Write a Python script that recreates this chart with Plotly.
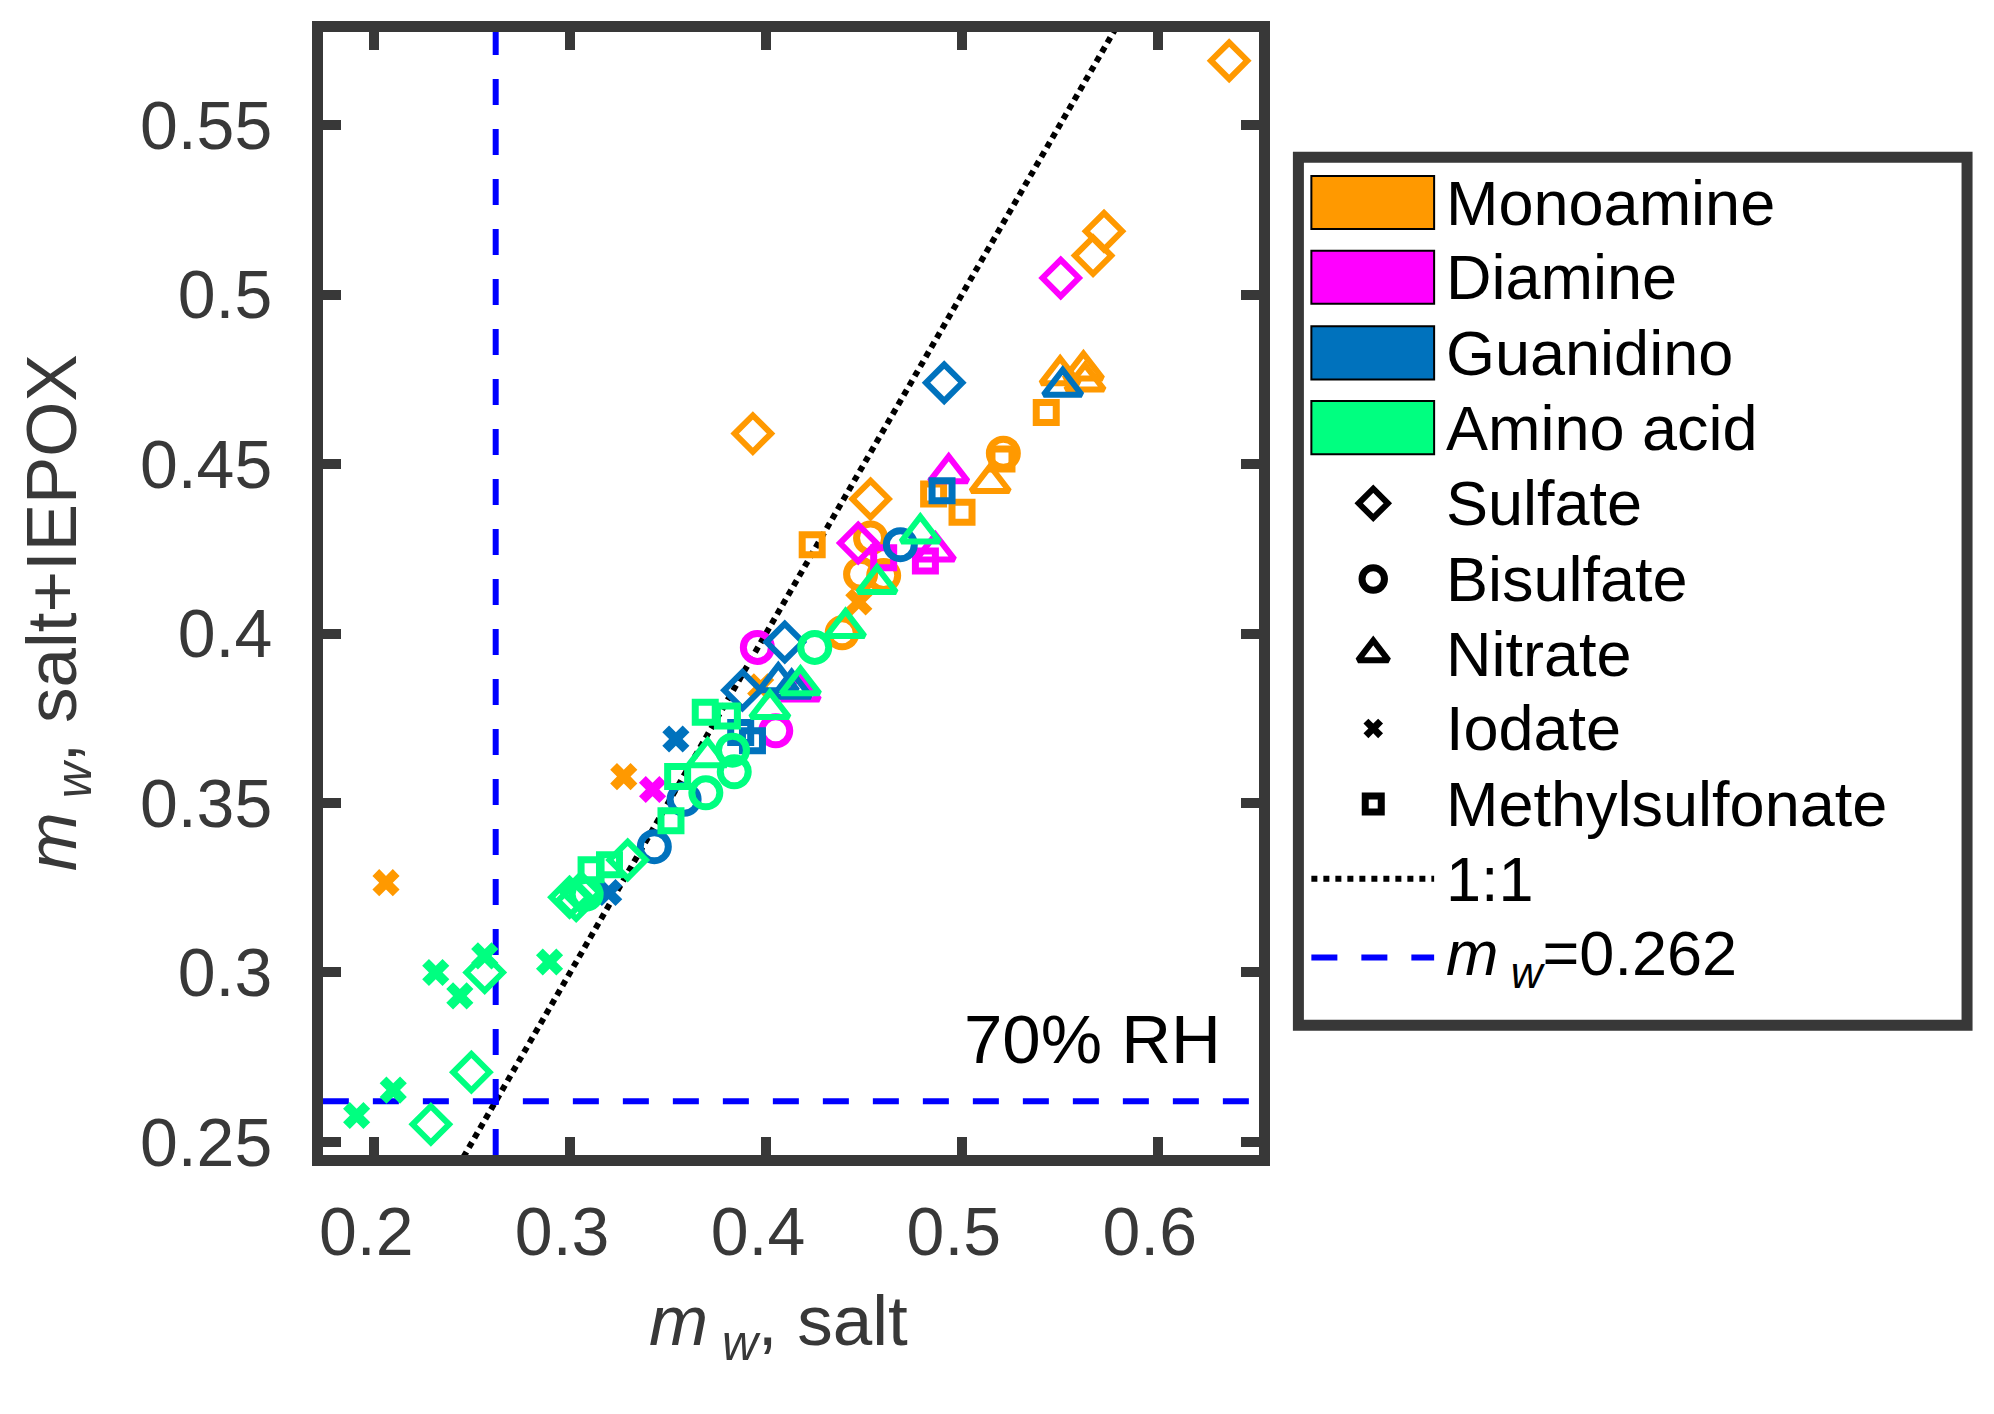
import plotly.graph_objects as go

W, H = 1994, 1414
FONT = "Liberation Sans, Arial, sans-serif"
AX = "#383838"

groups = ["Monoamine", "Diamine", "Guanidino", "Amino acid"]
group_colors = ["#FF9900", "#FF00FF", "#0072BD", "#00FF80"]
anions = ["Sulfate", "Bisulfate", "Nitrate", "Iodate", "Methylsulfonate"]

# ---- data (m_w salt, m_w salt+IEPOX, anion) ----
monoamine_x = [0.6365, 0.5726, 0.5670, 0.3933, 0.4534,
               0.5212, 0.4534, 0.4483, 0.4601, 0.4389,
               0.5502, 0.5621, 0.5629, 0.5145,
               0.2060, 0.3274, 0.3973, 0.4474,
               0.5431, 0.4856, 0.5001, 0.4236, 0.5205]
monoamine_y = [0.5690, 0.5187, 0.5115, 0.4590, 0.4397,
               0.4532, 0.4282, 0.4175, 0.4171, 0.4002,
               0.4763, 0.4777, 0.4744, 0.4445,
               0.3265, 0.3578, 0.3843, 0.4093,
               0.4652, 0.4412, 0.4358, 0.4262, 0.4515]
monoamine_anion = ["Sulfate"] * 5 + ["Bisulfate"] * 5 + ["Nitrate"] * 4 + ["Iodate"] * 4 + ["Methylsulfonate"] * 5

diamine_x = [0.5505, 0.4471,
             0.3956, 0.4050,
             0.4933, 0.4865, 0.4175,
             0.3421,
             0.4601, 0.4814]
diamine_y = [0.5049, 0.4267,
             0.3959, 0.3713,
             0.4474, 0.4243, 0.3830,
             0.3540,
             0.4224, 0.4214]
diamine_anion = ["Sulfate"] * 2 + ["Bisulfate"] * 2 + ["Nitrate"] * 3 + ["Iodate"] + ["Methylsulfonate"] * 2

guanidino_x = [0.4910, 0.4096, 0.3880,
               0.4686, 0.3582, 0.3430,
               0.5515, 0.4131, 0.4063,
               0.3540, 0.3197,
               0.4899, 0.3871, 0.3931]
guanidino_y = [0.4740, 0.3975, 0.3833,
               0.4262, 0.3511, 0.3371,
               0.4729, 0.3838, 0.3857,
               0.3689, 0.3236,
               0.4421, 0.3708, 0.3684]
guanidino_anion = ["Sulfate"] * 3 + ["Bisulfate"] * 3 + ["Nitrate"] * 3 + ["Iodate"] * 2 + ["Methylsulfonate"] * 3

aminoacid_x = [0.2564, 0.2496, 0.2289, 0.2997, 0.3031, 0.3056, 0.3294,
               0.4249, 0.3829, 0.3838, 0.3693, 0.3082,
               0.4788, 0.4567, 0.4406, 0.4176, 0.4020, 0.3702,
               0.2314, 0.2437, 0.2564, 0.2895, 0.2097, 0.1910,
               0.3690, 0.3803, 0.3549, 0.3515, 0.3201, 0.3107]
aminoacid_y = [0.3000, 0.2706, 0.2552, 0.3222, 0.3212, 0.3236, 0.3332,
               0.3959, 0.3656, 0.3592, 0.3530, 0.3231,
               0.4296, 0.4147, 0.4017, 0.3848, 0.3778, 0.3636,
               0.3000, 0.2931, 0.3049, 0.3031, 0.2653, 0.2578,
               0.3768, 0.3757, 0.3578, 0.3448, 0.3318, 0.3303]
aminoacid_anion = ["Sulfate"] * 7 + ["Bisulfate"] * 5 + ["Nitrate"] * 6 + ["Iodate"] * 6 + ["Methylsulfonate"] * 6

group_data = {
    "Monoamine": (monoamine_x, monoamine_y, monoamine_anion),
    "Diamine": (diamine_x, diamine_y, diamine_anion),
    "Guanidino": (guanidino_x, guanidino_y, guanidino_anion),
    "Amino acid": (aminoacid_x, aminoacid_y, aminoacid_anion),
}

x_range = [0.17376, 0.65187]
y_range = [0.24614, 0.57749]
x_ticks = [0.2, 0.3, 0.4, 0.5, 0.6]
x_ticklabels = ["0.2", "0.3", "0.4", "0.5", "0.6"]
y_ticks = [0.25, 0.3, 0.35, 0.4, 0.45, 0.5, 0.55]
y_ticklabels = ["0.25", "0.3", "0.35", "0.4", "0.45", "0.5", "0.55"]
one_to_one = [0.15, 0.7]
mw_threshold = 0.262

# ---- marker styles ----
sym = {"Sulfate": "diamond-open", "Bisulfate": "circle-open", "Nitrate": "triangle-up-open",
       "Iodate": "x", "Methylsulfonate": "square-open"}
msize = {"Sulfate": 28, "Bisulfate": 28, "Nitrate": 33, "Iodate": 24, "Methylsulfonate": 20}
mlw = {"Sulfate": 6, "Bisulfate": 7, "Nitrate": 6, "Iodate": 0, "Methylsulfonate": 7}

fig = go.Figure()

# reference lines
fig.add_trace(go.Scatter(x=one_to_one, y=one_to_one, mode="lines",
                         line=dict(color="black", width=6, dash="6px,5px"),
                         showlegend=False, hoverinfo="skip"))
fig.add_trace(go.Scatter(x=[mw_threshold, mw_threshold], y=y_range, mode="lines",
                         line=dict(color="#0000FF", width=6, dash="26px,24px"),
                         showlegend=False, hoverinfo="skip"))
fig.add_trace(go.Scatter(x=x_range, y=[mw_threshold, mw_threshold], mode="lines",
                         line=dict(color="#0000FF", width=6, dash="26px,24px"),
                         showlegend=False, hoverinfo="skip"))

for g, col in zip(groups, group_colors):
    xs, ys, an = group_data[g]
    for a in anions:
        px = [x for x, k in zip(xs, an) if k == a]
        py = [y for y, k in zip(ys, an) if k == a]
        if not px:
            continue
        fig.add_trace(go.Scatter(
            x=px, y=py, mode="markers", name=f"{g} {a}", showlegend=False,
            marker=dict(symbol=sym[a], size=msize[a], color=col,
                        line=dict(color=col, width=mlw[a]))))

# ---- legend (drawn in pixel coordinates on a hidden full-figure axis) ----
leg_left, leg_right, leg_top, leg_bottom = 1297, 1967, 160, 1043
row_y = [206, 282, 359, 435, 512, 589, 665, 741, 818, 894, 974]
patch_x0, patch_x1, patch_h = 1310, 1433, 54
text_x = 1443
mark_x = 1372

shapes = [dict(type="rect", xref="x2", yref="y2", x0=leg_left, x1=leg_right,
               y0=leg_top, y1=leg_bottom, line=dict(color=AX, width=11),
               fillcolor="white", layer="below")]
for i, col in enumerate(group_colors):
    shapes.append(dict(type="rect", xref="x2", yref="y2", x0=patch_x0, x1=patch_x1,
                       y0=row_y[i] - patch_h / 2, y1=row_y[i] + patch_h / 2,
                       line=dict(color="black", width=2), fillcolor=col, layer="above"))
shapes.append(dict(type="line", xref="x2", yref="y2", x0=patch_x0, x1=patch_x1,
                   y0=row_y[9], y1=row_y[9], line=dict(color="black", width=6, dash="6px,6px")))
shapes.append(dict(type="line", xref="x2", yref="y2", x0=patch_x0, x1=patch_x1,
                   y0=row_y[10], y1=row_y[10], line=dict(color="#0000FF", width=6, dash="26px,24px")))
fig.update_layout(shapes=shapes)

for j, a in enumerate(anions):
    fig.add_trace(go.Scatter(
        x=[mark_x], y=[row_y[4 + j]], xaxis="x2", yaxis="y2", mode="markers",
        showlegend=False, hoverinfo="skip",
        marker=dict(symbol=sym[a], size=msize[a] * (0.8 if a != "Iodate" else 0.72),
                    color="black", line=dict(color="black", width=mlw[a]))))

legend_labels = groups + anions + ["1:1", "<i>m</i><sub><i> w</i></sub>=0.262"]
annotations = []
for lab, yy in zip(legend_labels, row_y):
    annotations.append(dict(xref="x2", yref="y2", x=text_x, y=yy, text=lab,
                            showarrow=False, xanchor="left", yanchor="middle",
                            font=dict(family=FONT, size=63, color="black")))

# axis titles and panel label
annotations.append(dict(xref="x2", yref="y2", x=776, y=1349, showarrow=False,
                        text="<i>m</i><sub><i> w</i></sub>, salt",
                        xanchor="center", yanchor="middle",
                        font=dict(family=FONT, size=71, color=AX)))
annotations.append(dict(xref="x2", yref="y2", x=54, y=623, showarrow=False, textangle=-90,
                        text="<i>m</i><sub><i> w</i></sub>, salt+IEPOX",
                        xanchor="center", yanchor="middle",
                        font=dict(family=FONT, size=71, color=AX)))
annotations.append(dict(xref="x", yref="y", x=0.6331, y=0.2801, showarrow=False,
                        text="70% RH", xanchor="right", yanchor="middle",
                        font=dict(family=FONT, size=69, color="black")))
fig.update_layout(annotations=annotations)

axis_common = dict(ticks="inside", ticklen=18, tickwidth=10, tickcolor=AX,
                   showline=True, linewidth=11, linecolor=AX, mirror="ticks",
                   showgrid=False, zeroline=False,
                   tickfont=dict(family=FONT, size=68, color=AX))

fig.update_layout(
    width=W, height=H,
    margin=dict(l=0, r=0, t=0, b=0),
    paper_bgcolor="white", plot_bgcolor="rgba(0,0,0,0)",
    xaxis=dict(domain=[319.5 / W, 1257.8 / W], range=x_range, tickvals=x_ticks,
               ticktext=x_ticklabels, anchor="y", ticklabelstandoff=7,
               ticklabelshift=-8, **axis_common),
    yaxis=dict(domain=[1 - 1175 / H, 1 - 32.5 / H], range=y_range, tickvals=y_ticks,
               ticktext=y_ticklabels, anchor="x", ticklabelstandoff=26, **axis_common),
    xaxis2=dict(domain=[0, 1], range=[0, W], visible=False, anchor="y2", fixedrange=True),
    yaxis2=dict(domain=[0, 1], range=[H, 0], visible=False, anchor="x2", fixedrange=True),
    showlegend=False,
)

fig.write_html("out.html", config={"displayModeBar": False},
               post_script="document.body.style.margin='0';document.body.style.overflow='hidden';")
